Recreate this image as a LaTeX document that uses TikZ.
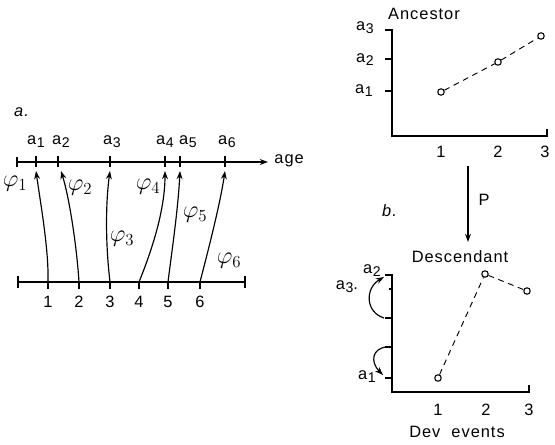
\documentclass[tikz,border=0pt]{standalone}
\usepackage{fontspec}
\setmainfont[LetterSpace=6]{Liberation Sans}
\usetikzlibrary{arrows.meta}
\newcommand{\agelab}[1]{a\kern0.5pt\raisebox{-0.35ex}{\fontsize{12}{12}\selectfont#1}}
\newcommand{\philab}[1]{\fontsize{21}{22}\selectfont$\varphi_{#1}$}

\begin{document}
\begin{tikzpicture}[x=0.03cm,y=-0.03cm,>={Stealth[length=7pt,width=5pt]},
  font=\fontsize{14}{16}\selectfont,
  every path/.style={line width=1pt},
  pt/.style={circle,draw,fill=white,inner sep=0pt,minimum size=5.5pt,line width=0.9pt},
  ylink/.style={dashed,line width=0.8pt,dash pattern=on 5pt off 4pt}]
\useasboundingbox (0,0) rectangle (555,444);

% a. age axis and developmental events
\node (tagA) at (22,112) {\textit{a.}};
\draw[line width=1.3pt,->] (17,162) -- (268,162);
\draw[line width=1.3pt] (17,157) -- (17,167);
\node[anchor=west] (age) at (270,161) {age};
\foreach \n/\x/\lx in {1/36/36,2/58/61,3/110/112,4/165/165,5/180/188,6/225/227} {
  \draw[line width=1.3pt] (\x,156) -- (\x,167);
  \coordinate (top\n) at (\x,171);
  \node (a\n) at (\lx,142) {\agelab{\n}};
}

\draw[line width=1.3pt] (18,282) -- (245,282);
\draw[line width=1.3pt] (18,276) -- (18,288);
\draw[line width=1.3pt] (245,276) -- (245,288);
\foreach \n/\x in {1/48,2/79,3/110,4/139,5/168,6/200} {
  \draw[line width=1.3pt] (\x,282) -- (\x,289);
  \coordinate (bot\n) at (\x,282);
  \node (e\n) at (\x,302) {\n};
}

\draw[->] (bot1) .. controls (49,250) and (40,200) .. (top1);
\draw[->] (bot2) .. controls (77,250) and (70,200) .. (61,171);
\draw[->] (bot3) .. controls (105,240) and (106,200) .. (top3);
\draw[->] (bot4) .. controls (152,250) and (165,210) .. (top4);
\draw[->] (bot5) .. controls (172,250) and (178,210) .. (top5);
\draw[->] (bot6) .. controls (207,255) and (220,205) .. (top6);

\node (phi1) at (15,184) {\philab{1}};
\node (phi2) at (80,188) {\philab{2}};
\node (phi3) at (122,239) {\philab{3}};
\node (phi4) at (148,187) {\philab{4}};
\node (phi5) at (195,215) {\philab{5}};
\node (phi6) at (229,261) {\philab{6}};

% Ancestor
\node (anc) at (424,14) {Ancestor};
\draw[line width=1.3pt] (385,30) -- (392,30) -- (392,136) -- (547,136) -- (547,129);
\foreach \n/\y in {1/91,2/59} \draw[line width=1.3pt] (385,\y) -- (392,\y);
\node (ya3) at (365,28) {\agelab{3}};
\node (ya2) at (365,60) {\agelab{2}};
\node (ya1) at (364,91) {\agelab{1}};
\foreach \n/\x in {1/441,2/498,3/545} \node (xa\n) at (\x,152) {\n};
\node[pt] (p1) at (441,92) {};
\node[pt] (p2) at (498,62) {};
\node[pt] (p3) at (541,36) {};
\draw[ylink] (p1) -- (p2) -- (p3);

% selection arrow
\coordinate (pfrom) at (468,166);
\coordinate (pto) at (468,242);
\draw[line width=1.2pt,->] (pfrom) -- (pto);
\node (P) at (484,200) {P};
\node (tagB) at (390,211) {\textit{b.}};

% Descendant
\node (desc) at (460,257) {Descendant};
\draw[line width=1.3pt] (385,275) -- (392,275) -- (392,392) -- (529,392) -- (529,385);
\foreach \y in {318,347,378} \draw[line width=1.3pt] (385,\y) -- (392,\y);
\draw[line width=1.3pt] (389,289) -- (392,289);
\coordinate (t2) at (384,277);
\coordinate (t5) at (384,318);
\coordinate (t4) at (387,347);
\coordinate (t1) at (383,375);
\draw[->] (t5) .. controls (365,312) and (365,288) .. (t2);
\draw[->] (t4) .. controls (372,348) and (370,362) .. (t1);
\node (yd2) at (372,271) {\agelab{2}};
\node (yd3) at (347,287) {\agelab{3}.};
\node (yd1) at (367,377) {\agelab{1}};
\foreach \n/\x in {1/438,2/486,3/529} \node (xd\n) at (\x,410) {\n};
\node (dev) at (457,432) {Dev\ \ events};
\node[pt] (q1) at (438,378) {};
\node[pt] (q2) at (485,274) {};
\node[pt] (q3) at (527,291) {};
\draw[ylink] (q1) -- (q2) -- (q3);

\end{tikzpicture}
\end{document}
